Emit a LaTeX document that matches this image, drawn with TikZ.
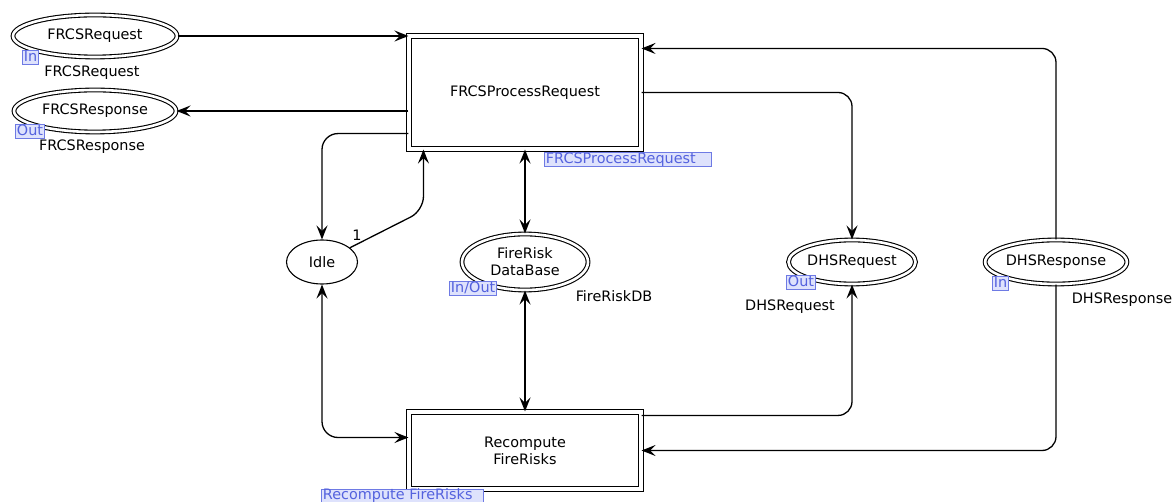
\documentclass[tikz,border=0pt]{standalone}
\usepackage{fontspec}
\setmainfont{DejaVu Sans}
\usetikzlibrary{shapes.geometric,arrows.meta,calc}

\definecolor{tagfill}{RGB}{222,226,252}
\definecolor{tagline}{RGB}{110,122,228}
\definecolor{tagtext}{RGB}{84,98,222}

\tikzset{
  every node/.style={font=\fontsize{14.4}{17}\selectfont},
  place/.style={ellipse, draw, line width=1.1pt, inner sep=0pt},
  portplace/.style={place, double, double distance=2.6pt},
  trans/.style={rectangle, draw, line width=1.1pt, double, double distance=3.4pt, inner sep=0pt, align=center},
  tag/.style={rectangle, draw=tagline, fill=tagfill, text=tagtext, line width=0.9pt,
    inner xsep=1.5pt, inner ysep=0.4pt, text height=10.4pt, text depth=2.8pt, anchor=north west},
  lbl/.style={inner sep=0pt},
  petritip/.tip={Stealth[length=14pt,width=11pt,inset=5.5pt]},
  flow/.style={line width=1.3pt, -petritip},
  flowboth/.style={line width=1.3pt, petritip-petritip},
}

\begin{document}
\begin{tikzpicture}[x=1pt, y=-1pt]
\useasboundingbox (0,0) rectangle (1175,502);

% places
\node[portplace, minimum width=164pt, minimum height=42pt] (fin)   at (95,36)   {FRCSRequest};
\node[portplace, minimum width=162pt, minimum height=42pt] (fout)  at (95,111)  {FRCSResponse};
\node[place,     minimum width=71pt,  minimum height=44pt] (idle)  at (322,262) {Idle};
\node[portplace, minimum width=126pt, minimum height=56pt, align=center] (db) at (525,262) {FireRisk\\DataBase};
\node[portplace, minimum width=127pt, minimum height=44pt] (dreq)  at (852,262) {DHSRequest};
\node[portplace, minimum width=124pt, minimum height=44pt] (dresp) at (1056,262) {DHSResponse};

% transitions
\node[trans, minimum width=232pt, minimum height=113pt] (tp) at (525,92.5) {FRCSProcessRequest};
\node[trans, minimum width=232pt, minimum height=77pt]  (tr) at (525,450.5) {Recompute\\FireRisks};

% port and substitution tags
\node[tag] (tgin)   at (22,50)   {In};
\node[tag] (tgout)  at (15,124)  {Out};
\node[tag] (tgio)   at (449,281) {In/Out};
\node[tag] (tgdout) at (786,275) {Out};
\node[tag] (tgdin)  at (992,276) {In};
\node[tag, text width=164pt, align=left] (tgtp) at (544,152) {FRCSProcessRequest};
\node[tag, text width=159pt, align=left] (tgtr) at (321,488.5) {Recompute FireRisks};

% place type labels
\node[lbl] (lfin)   at (92,73)    {FRCSRequest};
\node[lbl] (lfout)  at (92,147)   {FRCSResponse};
\node[lbl] (ldb)    at (614,296)  {FireRiskDB};
\node[lbl] (ldreq)  at (790,307)  {DHSRequest};
\node[lbl] (ldresp) at (1122,300) {DHSResponse};

% arcs
\draw[flow] (fin) -- (fin -| tp.west);
\draw[flow] (fout -| tp.west) -- (fout);
\draw[flow, rounded corners=16pt] ([yshift=16pt]tp.south west) -| (idle.north);
\coordinate (bend) at ($(tp.south west)+(15,61)$);
\draw[flow, rounded corners=14pt] (idle.27) -- (bend) -- (bend |- tp.south);
\node[lbl] (w1) at (357,235) {1};
\draw[flowboth] (tp.south) -- (db.north);
\draw[flowboth] (db.south) -- (tr.north);
\draw[flowboth, rounded corners=16pt] (idle.south) |- ([yshift=13pt]tr.west);
\draw[flow, rounded corners=14pt] (tp.east) -| (dreq.north);
\draw[flow, rounded corners=14pt] ([yshift=-4pt]tr.north east) -| (dreq.south);
\draw[flow, rounded corners=14pt] (dresp.north) |- ([yshift=-13pt]tp.north east);
\draw[flow, rounded corners=14pt] (dresp.south) |- (tr.east);
\end{tikzpicture}
\end{document}
